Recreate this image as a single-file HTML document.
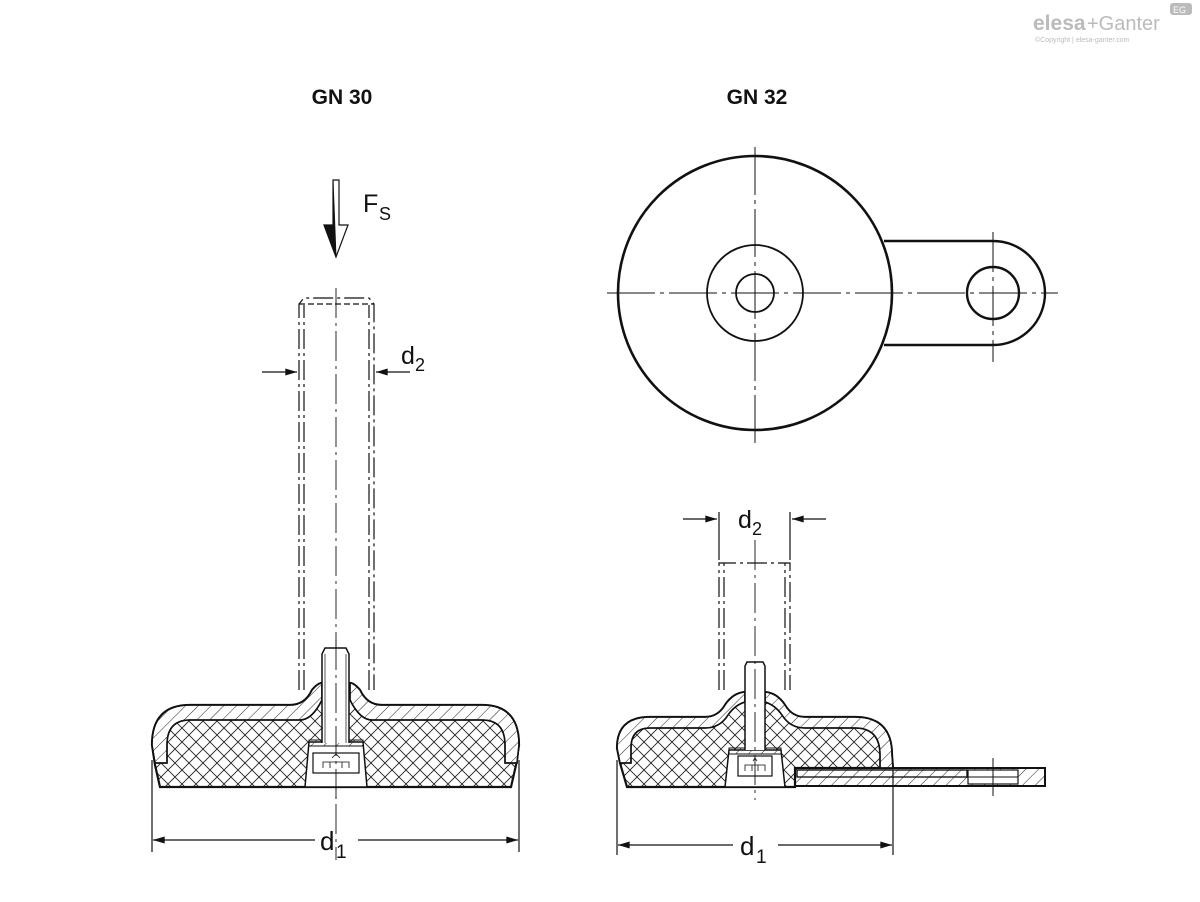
<!DOCTYPE html>
<html><head><style>
html,body{margin:0;padding:0;background:#fff;}
svg{display:block}
text{font-family:"Liberation Sans",sans-serif;fill:#111}
</style></head><body>
<svg width="1200" height="902" viewBox="0 0 1200 902" xmlns="http://www.w3.org/2000/svg">
<defs>
<pattern id="xh" width="14" height="14" patternUnits="userSpaceOnUse">
<path d="M0 0L14 14M14 0L0 14" stroke="#222" stroke-width="0.9"/>
</pattern>
<pattern id="sh" width="9" height="9" patternUnits="userSpaceOnUse" patternTransform="rotate(45)">
<path d="M0 0V9" stroke="#222" stroke-width="1"/>
</pattern>
<marker id="ar" viewBox="0 0 10 6" refX="10" refY="3" markerWidth="12" markerHeight="7" markerUnits="userSpaceOnUse" orient="auto"><path d="M0 0L10 3L0 6z" fill="#111"/></marker>
</defs>

<!-- logo -->
<text x="1033" y="30" font-size="21" font-weight="bold" style="fill:#bbb">elesa</text>
<text x="1087" y="30" font-size="20" style="fill:#bbb">+Ganter</text>
<rect x="1170" y="3" width="22" height="12" rx="3" fill="#bbb"/>
<text x="1173" y="13" font-size="9" style="fill:#fff">EG</text>
<text x="1035" y="42" font-size="7" style="fill:#bbb">©Copyright | elesa-ganter.com</text>

<text x="342" y="104" font-size="21" font-weight="bold" text-anchor="middle">GN 30</text>
<text x="757" y="104" font-size="21" font-weight="bold" text-anchor="middle">GN 32</text>

<g stroke="#111" fill="none">
<path d="M333 180V225H324L336 257L348 225H339V180Z" stroke-width="1.2"/>
<path d="M333 180V225H324L336 257Z" fill="#111"/>
</g>
<text x="363" y="212" font-size="25">F</text><text x="379" y="220" font-size="18">S</text>

<g stroke="#111" fill="none" stroke-width="1.2">
<path d="M299 690V304L304 298H369L374 304V690" stroke-dasharray="20 4 3 4"/>
<path d="M304 690V305M369 690V305" stroke-dasharray="20 4 3 4"/>
<path d="M299 304H374" stroke-dasharray="6 3"/>
<path d="M336 288V860" stroke-width="0.9" stroke-dasharray="30 5 3 5"/>
<line x1="262" y1="372" x2="297" y2="372" marker-end="url(#ar)"/>
<line x1="410" y1="372" x2="376" y2="372" marker-end="url(#ar)"/>
</g>
<text x="401" y="364" font-size="25">d</text><text x="415" y="371" font-size="18">2</text>

<g stroke="#111" stroke-width="2.2">
<path d="M160 787 L155 765 L152 745 Q152 705 190 705 H290 Q305 705 312 690 Q318 683 322 683 H350 Q354 683 360 690 Q367 705 382 705 H482 Q519 705 519 745 L516 765 L511 787 Z" fill="url(#xh)"/>
<path d="M155 763 L152 745 Q152 705 190 705 H290 Q305 705 312 690 Q318 683 322 683 L322 700 Q312 720 300 720 H190 Q167 720 167 745 V763 Z" fill="#fff" stroke-width="1.5"/>
<path d="M155 763 L152 745 Q152 705 190 705 H290 Q305 705 312 690 Q318 683 322 683 L322 700 Q312 720 300 720 H190 Q167 720 167 745 V763 Z" fill="url(#sh)" stroke-width="1.5"/>
<path d="M517 763 L519 745 Q519 705 482 705 H382 Q367 705 360 690 Q354 683 350 683 L350 700 Q360 720 372 720 H482 Q505 720 505 745 V763 Z" fill="#fff" stroke-width="1.5"/>
<path d="M517 763 L519 745 Q519 705 482 705 H382 Q367 705 360 690 Q354 683 350 683 L350 700 Q360 720 372 720 H482 Q505 720 505 745 V763 Z" fill="url(#sh)" stroke-width="1.5"/>
<path d="M305 787 L309 742 H363 L367 787Z" fill="#fff" stroke-width="1.5"/>
<rect x="309" y="740" width="54" height="6" fill="url(#sh)" stroke-width="1"/>
<rect x="313" y="753" width="46" height="20" fill="#fff" stroke-width="1.2"/>
<path d="M323 768V762H349V768M330 762V768M342 762V768M332 758L336 754L340 758" fill="none" stroke-width="0.8"/>
<path d="M322 743 V654 L325 648 H346 L349 654 V743" fill="#fff" stroke-width="1.5"/>
<path d="M325 654 V743 M346 654 V743" stroke-width="0.7" fill="none"/>
</g>
<line x1="336" y1="640" x2="336" y2="800" stroke="#111" stroke-width="0.9" stroke-dasharray="30 5 3 5"/>

<g stroke="#111" stroke-width="1.2" fill="none">
<line x1="152" y1="760" x2="152" y2="852"/><line x1="519" y1="760" x2="519" y2="852"/>
<line x1="315" y1="840" x2="153" y2="840" marker-end="url(#ar)"/>
<line x1="358" y1="840" x2="518" y2="840" marker-end="url(#ar)"/>
</g>
<text x="320" y="850" font-size="26">d</text><text x="336" y="858" font-size="19">1</text>

<g stroke="#111" fill="none">
<path d="M884 241 H993 A52 52 0 0 1 993 345 H884" stroke-width="2.4"/>
<circle cx="755" cy="293" r="137" fill="#fff" stroke-width="2.6"/>
<circle cx="755" cy="293" r="48" stroke-width="1.8"/>
<circle cx="755" cy="293" r="19" stroke-width="1.8"/>
<circle cx="993" cy="293" r="26" stroke-width="2.4"/>
<line x1="607" y1="293" x2="1058" y2="293" stroke-width="1" stroke-dasharray="48 5 4 5"/>
<line x1="755" y1="147" x2="755" y2="447" stroke-width="1" stroke-dasharray="48 5 4 5"/>
<line x1="993" y1="232" x2="993" y2="362" stroke-width="1" stroke-dasharray="40 5 4 5"/>
</g>

<g stroke="#111" fill="none" stroke-width="1.2">
<path d="M719 690V563H790V690M724 690V563M785 690V563" stroke-dasharray="20 4 3 4"/>
<line x1="719" y1="512" x2="719" y2="560"/><line x1="790" y1="512" x2="790" y2="560"/>
<line x1="683" y1="519" x2="717" y2="519" marker-end="url(#ar)"/>
<line x1="826" y1="519" x2="792" y2="519" marker-end="url(#ar)"/>
</g>
<text x="738" y="528" font-size="25">d</text><text x="752" y="535" font-size="18">2</text>

<g stroke="#111" stroke-width="2.2">
<rect x="795" y="768" width="250" height="18" fill="url(#sh)" stroke-width="2"/>
<path d="M627 787 L620 763 L617 748 Q617 717 650 717 H705 Q718 717 725 705 Q733 693 745 692 H765 Q777 693 785 705 Q792 717 805 717 H855 Q892 717 892 755 L893 768 H795 V787 Z" fill="url(#xh)"/>
<path d="M620 763 L617 748 Q617 717 650 717 H705 Q718 717 725 705 Q733 693 745 692 V702 Q735 705 728 715 Q720 728 705 728 H650 Q631 728 631 748 V763 Z" fill="#fff" stroke-width="1.5"/>
<path d="M620 763 L617 748 Q617 717 650 717 H705 Q718 717 725 705 Q733 693 745 692 V702 Q735 705 728 715 Q720 728 705 728 H650 Q631 728 631 748 V763 Z" fill="url(#sh)" stroke-width="1.5"/>
<path d="M893 768 L892 755 Q892 717 855 717 H805 Q792 717 785 705 Q777 693 765 692 V702 Q775 705 782 715 Q790 728 805 728 H855 Q880 728 880 755 V768 Z" fill="#fff" stroke-width="1.5"/>
<path d="M893 768 L892 755 Q892 717 855 717 H805 Q792 717 785 705 Q777 693 765 692 V702 Q775 705 782 715 Q790 728 805 728 H855 Q880 728 880 755 V768 Z" fill="url(#sh)" stroke-width="1.5"/>
<rect x="797" y="770" width="170" height="7" fill="#fff" stroke-width="1.2"/>
<rect x="797" y="770" width="170" height="7" fill="url(#sh)" stroke-width="1.2"/>
<rect x="968" y="770" width="50" height="14" fill="#fff" stroke-width="1.2"/>
<path d="M968 777H1018" stroke-width="1"/>
<path d="M725 787 L729 750 H781 L785 787Z" fill="#fff" stroke-width="1.5"/>
<rect x="729" y="748" width="52" height="6" fill="url(#sh)" stroke-width="1"/>
<rect x="738" y="756" width="34" height="20" fill="#fff" stroke-width="1.2"/>
<path d="M745 771V765H765V771M752 765V771M758 765V771M753 761L755 758L757 761" fill="none" stroke-width="0.8"/>
<path d="M745 750 V666 L747 662 H763 L765 666 V750" fill="#fff" stroke-width="1.5"/>
</g>
<line x1="755" y1="540" x2="755" y2="800" stroke="#111" stroke-width="0.9" stroke-dasharray="30 5 3 5"/>
<line x1="993" y1="758" x2="993" y2="796" stroke="#111" stroke-width="1"/>

<g stroke="#111" stroke-width="1.2" fill="none">
<line x1="617" y1="760" x2="617" y2="855"/><line x1="893" y1="770" x2="893" y2="855"/>
<line x1="733" y1="845" x2="618" y2="845" marker-end="url(#ar)"/>
<line x1="778" y1="845" x2="892" y2="845" marker-end="url(#ar)"/>
</g>
<text x="740" y="855" font-size="26">d</text><text x="756" y="863" font-size="19">1</text>
</svg>
</body></html>
